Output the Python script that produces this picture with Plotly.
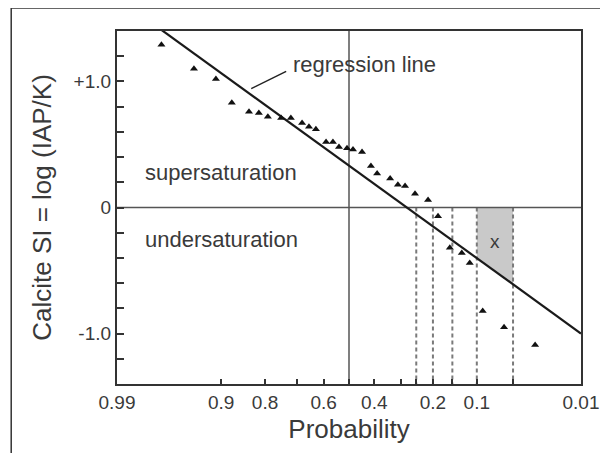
import plotly.graph_objects as go
from statistics import NormalDist

# ---------------- data ----------------
prob = [0.970, 0.940, 0.909, 0.880, 0.842, 0.817, 0.792, 0.752, 0.720, 0.681,
        0.656, 0.630, 0.591, 0.564, 0.540, 0.508, 0.484, 0.448, 0.413, 0.389,
        0.340, 0.312, 0.287, 0.254, 0.214, 0.186, 0.156, 0.129, 0.113, 0.090,
        0.060, 0.031]
si = [1.29, 1.10, 1.02, 0.83, 0.76, 0.75, 0.72, 0.71, 0.71, 0.67,
      0.64, 0.62, 0.52, 0.52, 0.48, 0.47, 0.46, 0.44, 0.33, 0.27,
      0.23, 0.18, 0.17, 0.11, 0.06, -0.07, -0.32, -0.36, -0.44, -0.82,
      -0.95, -1.09]

reg_intercept = 0.332    # SI at probability 0.5
reg_slope = -0.5725      # SI per standard normal unit

x_labeled = [0.99, 0.9, 0.8, 0.6, 0.4, 0.2, 0.1, 0.01]
x_labels = ["0.99", "0.9", "0.8", "0.6", "0.4", "0.2", "0.1", "0.01"]
x_minor = [0.7, 0.5, 0.3, 0.25, 0.15, 0.05]

y_ticks = [-1.4, -1.2, -1.0, -0.8, -0.6, -0.4, -0.2, 0.0, 0.2, 0.4, 0.6, 0.8, 1.0, 1.2, 1.4]
y_labels = {-1.0: "-1.0", 0.0: "0", 1.0: "+1.0"}

dashed_probs = [0.25, 0.2, 0.15, 0.1, 0.05]
shade_probs = (0.1, 0.05)
center_prob = 0.5

# ---------------- helpers ----------------
nd = NormalDist()


def z(p):
    return nd.inv_cdf(1 - p)


def reg(zv):
    return reg_intercept + reg_slope * zv


FONT = "Liberation Sans, Arial, sans-serif"
TXT = "#3a3a3a"
AX = "#333333"
YMIN, YMAX = -1.4, 1.4

fig = go.Figure()

# shaded region x
za, zb = z(shade_probs[0]), z(shade_probs[1])
fig.add_trace(go.Scatter(
    x=[za, zb, zb, za, za], y=[0, 0, reg(zb), reg(za), 0],
    mode="lines", fill="toself", fillcolor="#c9c9c9",
    line=dict(width=0), hoverinfo="skip", showlegend=False))

# dashed verticals
for p in dashed_probs:
    fig.add_trace(go.Scatter(
        x=[z(p), z(p)], y=[0, YMIN], mode="lines",
        line=dict(color="#7a7a7a", width=2, dash="4px,3px"),
        hoverinfo="skip", showlegend=False))

# zero line and 0.5 line
fig.add_trace(go.Scatter(x=[z(0.99), z(0.01)], y=[0, 0], mode="lines",
                         line=dict(color="#555555", width=1.5),
                         hoverinfo="skip", showlegend=False))
fig.add_trace(go.Scatter(x=[z(center_prob), z(center_prob)], y=[YMIN, YMAX], mode="lines",
                         line=dict(color="#555555", width=1.5),
                         hoverinfo="skip", showlegend=False))

# regression line
zl = [z(0.99), z(0.01)]
fig.add_trace(go.Scatter(x=zl, y=[reg(v) for v in zl], mode="lines",
                         line=dict(color="#1a1a1a", width=2.2),
                         hoverinfo="skip", showlegend=False))

# data points
fig.add_trace(go.Scatter(x=[z(p) for p in prob], y=si, mode="markers",
                         marker=dict(symbol="triangle-up", size=7, color="#111111"),
                         showlegend=False))

# leader line for "regression line" label
fig.add_shape(type="line", xref="x", yref="y",
              x0=-0.98, y0=reg(-0.98) + 0.05, x1=-0.63, y1=1.08,
              line=dict(color="#222222", width=1.5))

# frame around the whole figure
fig.add_shape(type="line", xref="paper", yref="paper",
              x0=-0.228, y0=1.065, x1=1.1, y1=1.065,
              line=dict(color="#333333", width=1.5))
fig.add_shape(type="line", xref="paper", yref="paper",
              x0=-0.228, y0=1.065, x1=-0.228, y1=-0.3,
              line=dict(color="#333333", width=1.5))

ann = dict(font=dict(family=FONT, size=22, color=TXT), showarrow=False,
           xref="x", yref="y")
fig.add_annotation(text="regression line", x=-0.585, y=1.135, xanchor="left", **ann)
fig.add_annotation(text="supersaturation", x=-2.07, y=0.278, xanchor="left", **ann)
fig.add_annotation(text="undersaturation", x=-2.07, y=-0.254, xanchor="left", **ann)
fig.add_annotation(text="x", x=(za + zb) / 2, y=-0.27, showarrow=False,
                   font=dict(family=FONT, size=19, color=TXT))

xt = x_labeled + x_minor
xtext = x_labels + [""] * len(x_minor)

fig.update_layout(
    width=608, height=453,
    margin=dict(l=109, r=35, t=23, b=77),
    paper_bgcolor="white", plot_bgcolor="white",
    font=dict(family=FONT, color=TXT),
    xaxis=dict(range=[z(0.99), z(0.01)], tickvals=[z(p) for p in xt], ticktext=xtext,
               ticks="inside", ticklen=5, tickwidth=1.5, tickcolor=AX,
               showline=True, linewidth=2.2, linecolor=AX, mirror=True,
               showgrid=False, zeroline=False,
               tickfont=dict(family=FONT, size=19, color=TXT),
               title=dict(text="Probability", font=dict(family=FONT, size=26, color=TXT),
                          standoff=8)),
    yaxis=dict(range=[YMIN, YMAX], tickvals=y_ticks,
               ticktext=[y_labels.get(round(v, 1), "") for v in y_ticks],
               ticks="inside", ticklen=7, tickwidth=1.5, tickcolor=AX,
               showline=True, linewidth=2.2, linecolor=AX, mirror=True,
               showgrid=False, zeroline=False,
               tickfont=dict(family=FONT, size=19, color=TXT),
               title=dict(text="Calcite SI = log (IAP/K)",
                          font=dict(family=FONT, size=26, color=TXT), standoff=14)),
)

fig.write_html("out.html")
